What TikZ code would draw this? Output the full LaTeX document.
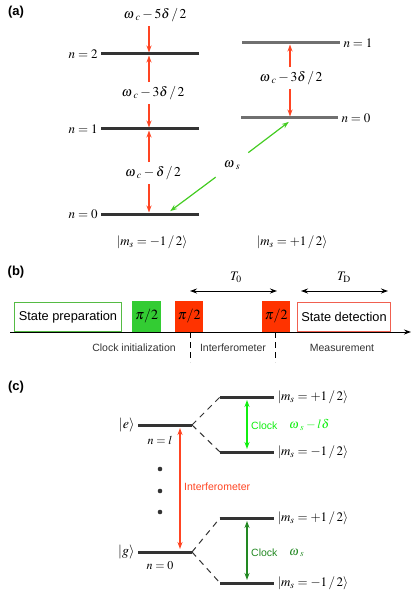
\documentclass[tikz,border=0pt]{standalone}
\usepackage{mathptmx}
\usepackage[no-math]{fontspec}
\setmainfont{Liberation Serif}
\setsansfont{Liberation Sans}
\usetikzlibrary{arrows.meta}
\definecolor{lvldark}{HTML}{333333}
\definecolor{lvlgrey}{HTML}{707070}
\definecolor{arrred}{HTML}{FF4422}
\definecolor{pulsered}{HTML}{FF3300}
\definecolor{pulsegreen}{HTML}{33CC33}
\definecolor{prepgreen}{HTML}{55BB44}
\definecolor{detred}{HTML}{F06050}
\definecolor{wsgreen}{HTML}{44CC22}
\definecolor{clkbright}{HTML}{11EE11}
\definecolor{clkdark}{HTML}{228822}
\newcommand{\om}[1]{\omega\mkern2mu_{#1}}
\begin{document}
\begin{tikzpicture}[x=1pt,y=-1pt,>={Stealth[length=7pt,width=5pt]},
  lvl/.style={line width=3pt,draw=lvldark},
  lvlb/.style={line width=3pt,draw=lvlgrey},
  tag/.style={font=\sffamily\bfseries\fontsize{13}{15}\selectfont,inner sep=0pt},
  mlab/.style={font=\fontsize{13}{15}\selectfont,inner sep=2pt},
  flab/.style={font=\fontsize{13.5}{15}\selectfont,inner sep=4pt},
  keta/.style={font=\fontsize{13}{15}\selectfont,inner sep=0pt},
  ketc/.style={font=\fontsize{13}{15}\selectfont,inner sep=2pt,right},
  slab/.style={font=\sffamily\fontsize{10.5}{12}\selectfont,inner sep=0pt},
  redarr/.style={->,draw=arrred,line width=1.2pt,shorten >=1.5pt},
  grnarr/.style={->,draw=wsgreen,line width=1.2pt,shorten >=1.5pt},
  tarr/.style={<->,line width=1pt},
  box/.style={draw,line width=1pt,fill=white,anchor=south west,minimum height=29pt,
    inner sep=0pt,font=\sffamily\fontsize{12.8}{14}\selectfont},
  pulse/.style={anchor=south west,minimum height=31pt,inner sep=0pt,font=\fontsize{14}{16}\selectfont},
  dashln/.style={dash pattern=on 6pt off 5pt,line width=1pt,draw=lvldark},
  clk/.style={<->,line width=1.2pt,shorten >=3pt,shorten <=3pt}]
\useasboundingbox (0,0) rectangle (415,596);
% (a)
\node[tag] (pa) at (16,12) {(a)};
\coordinate (a2) at (149,54); \coordinate (a1) at (149,129); \coordinate (a0) at (149,214);
\coordinate (b1) at (290,43); \coordinate (b0) at (290,118);
\draw[lvl] (199,54) -- (101,54) node[mlab,left] {$n = 2$};
\draw[lvl] (199,129) -- (101,129) node[mlab,left] {$n = 1$};
\draw[lvl] (199,214) -- (101,214) node[mlab,left] {$n = 0$};
\draw[lvlb] (242,43) -- (340,43) node[mlab,right] {$n = 1$};
\draw[lvlb] (241,118) -- (338,118) node[mlab,right] {$n = 0$};
\node[flab] (w5) at (155,15) {$\om{c}-5\delta\,/\,2$};
\node[flab] (w3) at (153,93) {$\om{c}-3\delta\,/\,2$};
\node[flab] (w1) at (153,173) {$\om{c}-\delta\,/\,2$};
\node[flab] (w3b) at (291,78) {$\om{c}-3\delta\,/\,2$};
\draw[redarr] (a2 |- w5.south) -- (a2);
\draw[redarr] (a2 |- w3.north) -- (a2); \draw[redarr] (a1 |- w3.south) -- (a1);
\draw[redarr] (a1 |- w1.north) -- (a1); \draw[redarr] (a0 |- w1.south) -- (a0);
\draw[redarr] (b1 |- w3b.north) -- (b1); \draw[redarr] (b0 |- w3b.south) -- (b0);
\coordinate (g0) at (169,212); \coordinate (g1) at (290,121);
\node[flab,inner sep=8pt] (ws) at (232,165) {$\om{s}$};
\draw[grnarr] (ws) -- (g0); \draw[grnarr] (ws) -- (g1);
\node[keta] (kl) at (152,242) {$\vert m_s = -1\,/\,2\rangle$};
\node[keta] (kr) at (292,242) {$\vert m_s = +1\,/\,2\rangle$};
% (b)
\node[tag] (pb) at (16,272) {(b)};
\coordinate (ax0) at (10,332); \coordinate (ax1) at (411,332);
\node[box,draw=prepgreen,minimum width=107pt] (prep) at (14,332) {State preparation};
\node[pulse,fill=pulsegreen,minimum width=29pt] (p1) at (132,332) {$\pi/2$};
\node[pulse,fill=pulsered,minimum width=28pt] (p2) at (175,332) {$\pi/2$};
\node[pulse,fill=pulsered,minimum width=28pt] (p3) at (262,332) {$\pi/2$};
\node[box,draw=detred,minimum width=93pt] (det) at (297,332) {State detection};
\draw[->,line width=0.9pt] (ax0) -- (ax1);
\coordinate (d1) at (190,332); \coordinate (d1e) at (190,362);
\coordinate (d2) at (275,332); \coordinate (d2e) at (275,362);
\draw[dashln,draw=black,dash pattern=on 6pt off 4pt] (d1) -- (d1e);
\draw[dashln,draw=black,dash pattern=on 6pt off 4pt] (d2) -- (d2e);
\coordinate (t0a) at (190,291); \coordinate (t0b) at (277,291);
\coordinate (tda) at (301,291); \coordinate (tdb) at (388,291);
\draw[tarr] (t0a) -- (t0b); \draw[tarr] (tda) -- (tdb);
\node[mlab] (t0) at (236,277) {$T_0$};
\node[mlab] (td) at (344,277) {$T_{\mathrm{D}}$};
\node[slab,text=lvldark] (ci) at (134,348) {Clock initialization};
\node[slab,text=lvldark] (ifm) at (233,348) {Interferometer};
\node[slab,text=lvldark] (ms) at (342,348) {Measurement};
% (c)
\node[tag] (pc) at (16,387) {(c)};
\coordinate (e0) at (138,425); \coordinate (e1) at (192,425);
\coordinate (g0c) at (138,552); \coordinate (g1c) at (192,552);
\draw[lvl] (e1) -- (e0) node[mlab,left,font=\fontsize{14}{16}\selectfont] {$\vert e\rangle$};
\draw[lvl] (g1c) -- (g0c) node[mlab,left,font=\fontsize{14}{16}\selectfont] {$\vert g\rangle$};
\node[mlab,font=\fontsize{12}{14}\selectfont] (nl) at (160,440) {$n = l$};
\node[mlab,font=\fontsize{12}{14}\selectfont] (n0) at (160,566) {$n = 0$};
\foreach \y in {469,491,512} \fill[lvldark] (160,\y) circle (2.3pt);
\coordinate (ie) at (180,425); \coordinate (ig) at (180,552);
\draw[clk,draw=arrred] (ie) -- (ig);
\node[slab,text=arrred,anchor=west] (intl) at (184,487) {Interferometer};
\coordinate (u1) at (220,397); \coordinate (u0) at (220,452);
\coordinate (l1) at (220,518); \coordinate (l0) at (220,583);
\draw[dashln] (e1) -- (u1); \draw[dashln] (e1) -- (u0);
\draw[dashln] (g1c) -- (l1); \draw[dashln] (g1c) -- (l0);
\draw[lvl] (u1) -- (274,397) node[ketc] {$\vert m_s = +1\,/\,2\rangle$};
\draw[lvl] (u0) -- (274,452) node[ketc] {$\vert m_s = -1\,/\,2\rangle$};
\draw[lvl] (l1) -- (274,518) node[ketc] {$\vert m_s = +1\,/\,2\rangle$};
\draw[lvl] (l0) -- (274,583) node[ketc] {$\vert m_s = -1\,/\,2\rangle$};
\coordinate (cu1) at (247,397); \coordinate (cu0) at (247,452);
\coordinate (cl1) at (247,518); \coordinate (cl0) at (247,583);
\draw[clk,draw=clkbright] (cu1) -- (cu0);
\draw[clk,draw=clkdark] (cl1) -- (cl0);
\node[slab,text=clkbright,anchor=west] (ck1) at (251,426) {Clock};
\node[mlab,font=\fontsize{12.5}{14}\selectfont,text=clkbright,anchor=west] (wl) at (287,425) {$\om{s}-l\delta$};
\node[slab,text=clkdark,anchor=west] (ck0) at (251,553) {Clock};
\node[mlab,font=\fontsize{12.5}{14}\selectfont,text=clkdark,anchor=west] (ws0) at (287,553) {$\om{s}$};
\end{tikzpicture}
\end{document}
